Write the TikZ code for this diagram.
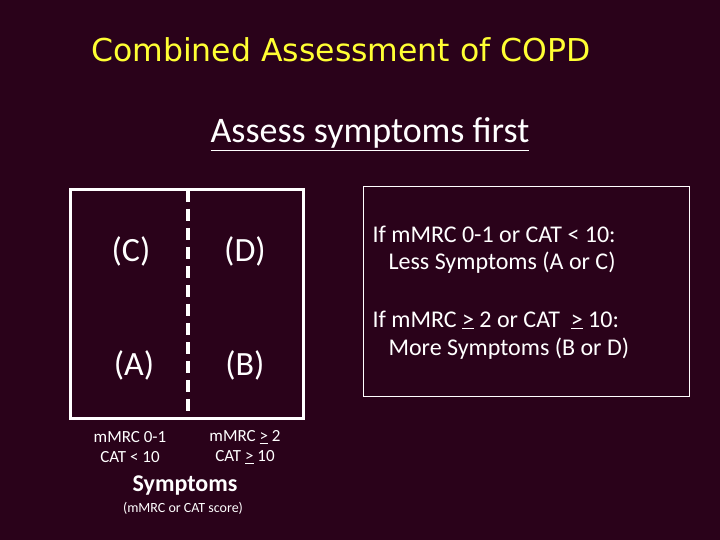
\documentclass[tikz,border=0pt]{standalone}
\usepackage{fontspec}
\setmainfont{Carlito}
\newfontfamily\titlefont{DejaVu Sans}
\definecolor{slidebg}{RGB}{42,2,26}
\definecolor{titleyellow}{RGB}{255,255,51}
\tikzset{
  quadlabel/.style={text=white, font=\fontsize{34}{38}\selectfont},
  axislabel/.style={text=white, font=\fontsize{17}{20}\selectfont, align=center},
  rulelabel/.style={text=white, font=\fontsize{24}{28}\selectfont, anchor=west},
}
\begin{document}
\begin{tikzpicture}[x=1pt, y=-1pt]

    % the slide background
    \fill[slidebg] (0,0) rectangle (720,540);
    \useasboundingbox (0,0) rectangle (720,540);

    % The title
    \node[text=titleyellow, font=\titlefont\fontsize{31.5}{36}\selectfont] (title) at (341,50) {Combined Assessment of COPD};

    % The subtitle
    \node[text=white, font=\fontsize{36}{42}\selectfont] (subtitle) at (370,134) {\underline{Assess symptoms first}};

    % the square with the four groups
    \draw[white, line width=3pt] (70,190) rectangle (303,418);
    % the dashed line between less and more symptoms
    \coordinate (splittop) at (188,190);
    \coordinate (splitbot) at (188,418);
    \draw[white, line width=4pt, dash pattern=on 12pt off 7pt] (splittop) -- (splitbot);

    % The group labels
    \node[quadlabel] (groupC) at (131,251) {(C)};
    \node[quadlabel] (groupD) at (245,251) {(D)};
    \node[quadlabel] (groupA) at (134,365) {(A)};
    \node[quadlabel] (groupB) at (245,365) {(B)};

    % The labels below the square
    \node[axislabel] (lessaxis) at (130,447) {mMRC 0-1\\CAT < 10};
    \node[axislabel] (moreaxis) at (245,447) {mMRC \underline{>} 2\\CAT \underline{>} 10};
    \node[text=white, font=\bfseries\fontsize{24}{28}\selectfont] (symptoms) at (185,486) {Symptoms};
    \node[text=white, font=\fontsize{14}{16}\selectfont] (score) at (183,508) {(mMRC or CAT score)};

    % the box with the rules
    \draw[white, line width=1pt] (363,187) rectangle (689,396);
    \node[rulelabel] (lessrule) at (369,234) {If mMRC 0-1 or CAT < 10:};
    \node[rulelabel] (lessgroup) at (385,263) {Less Symptoms (A or C)};
    \node[rulelabel] (morerule) at (369,320) {If mMRC \underline{>} 2 or CAT\ \ \underline{>} 10:};
    \node[rulelabel] (moregroup) at (385,349) {More Symptoms (B or D)};
\end{tikzpicture}
\end{document}
